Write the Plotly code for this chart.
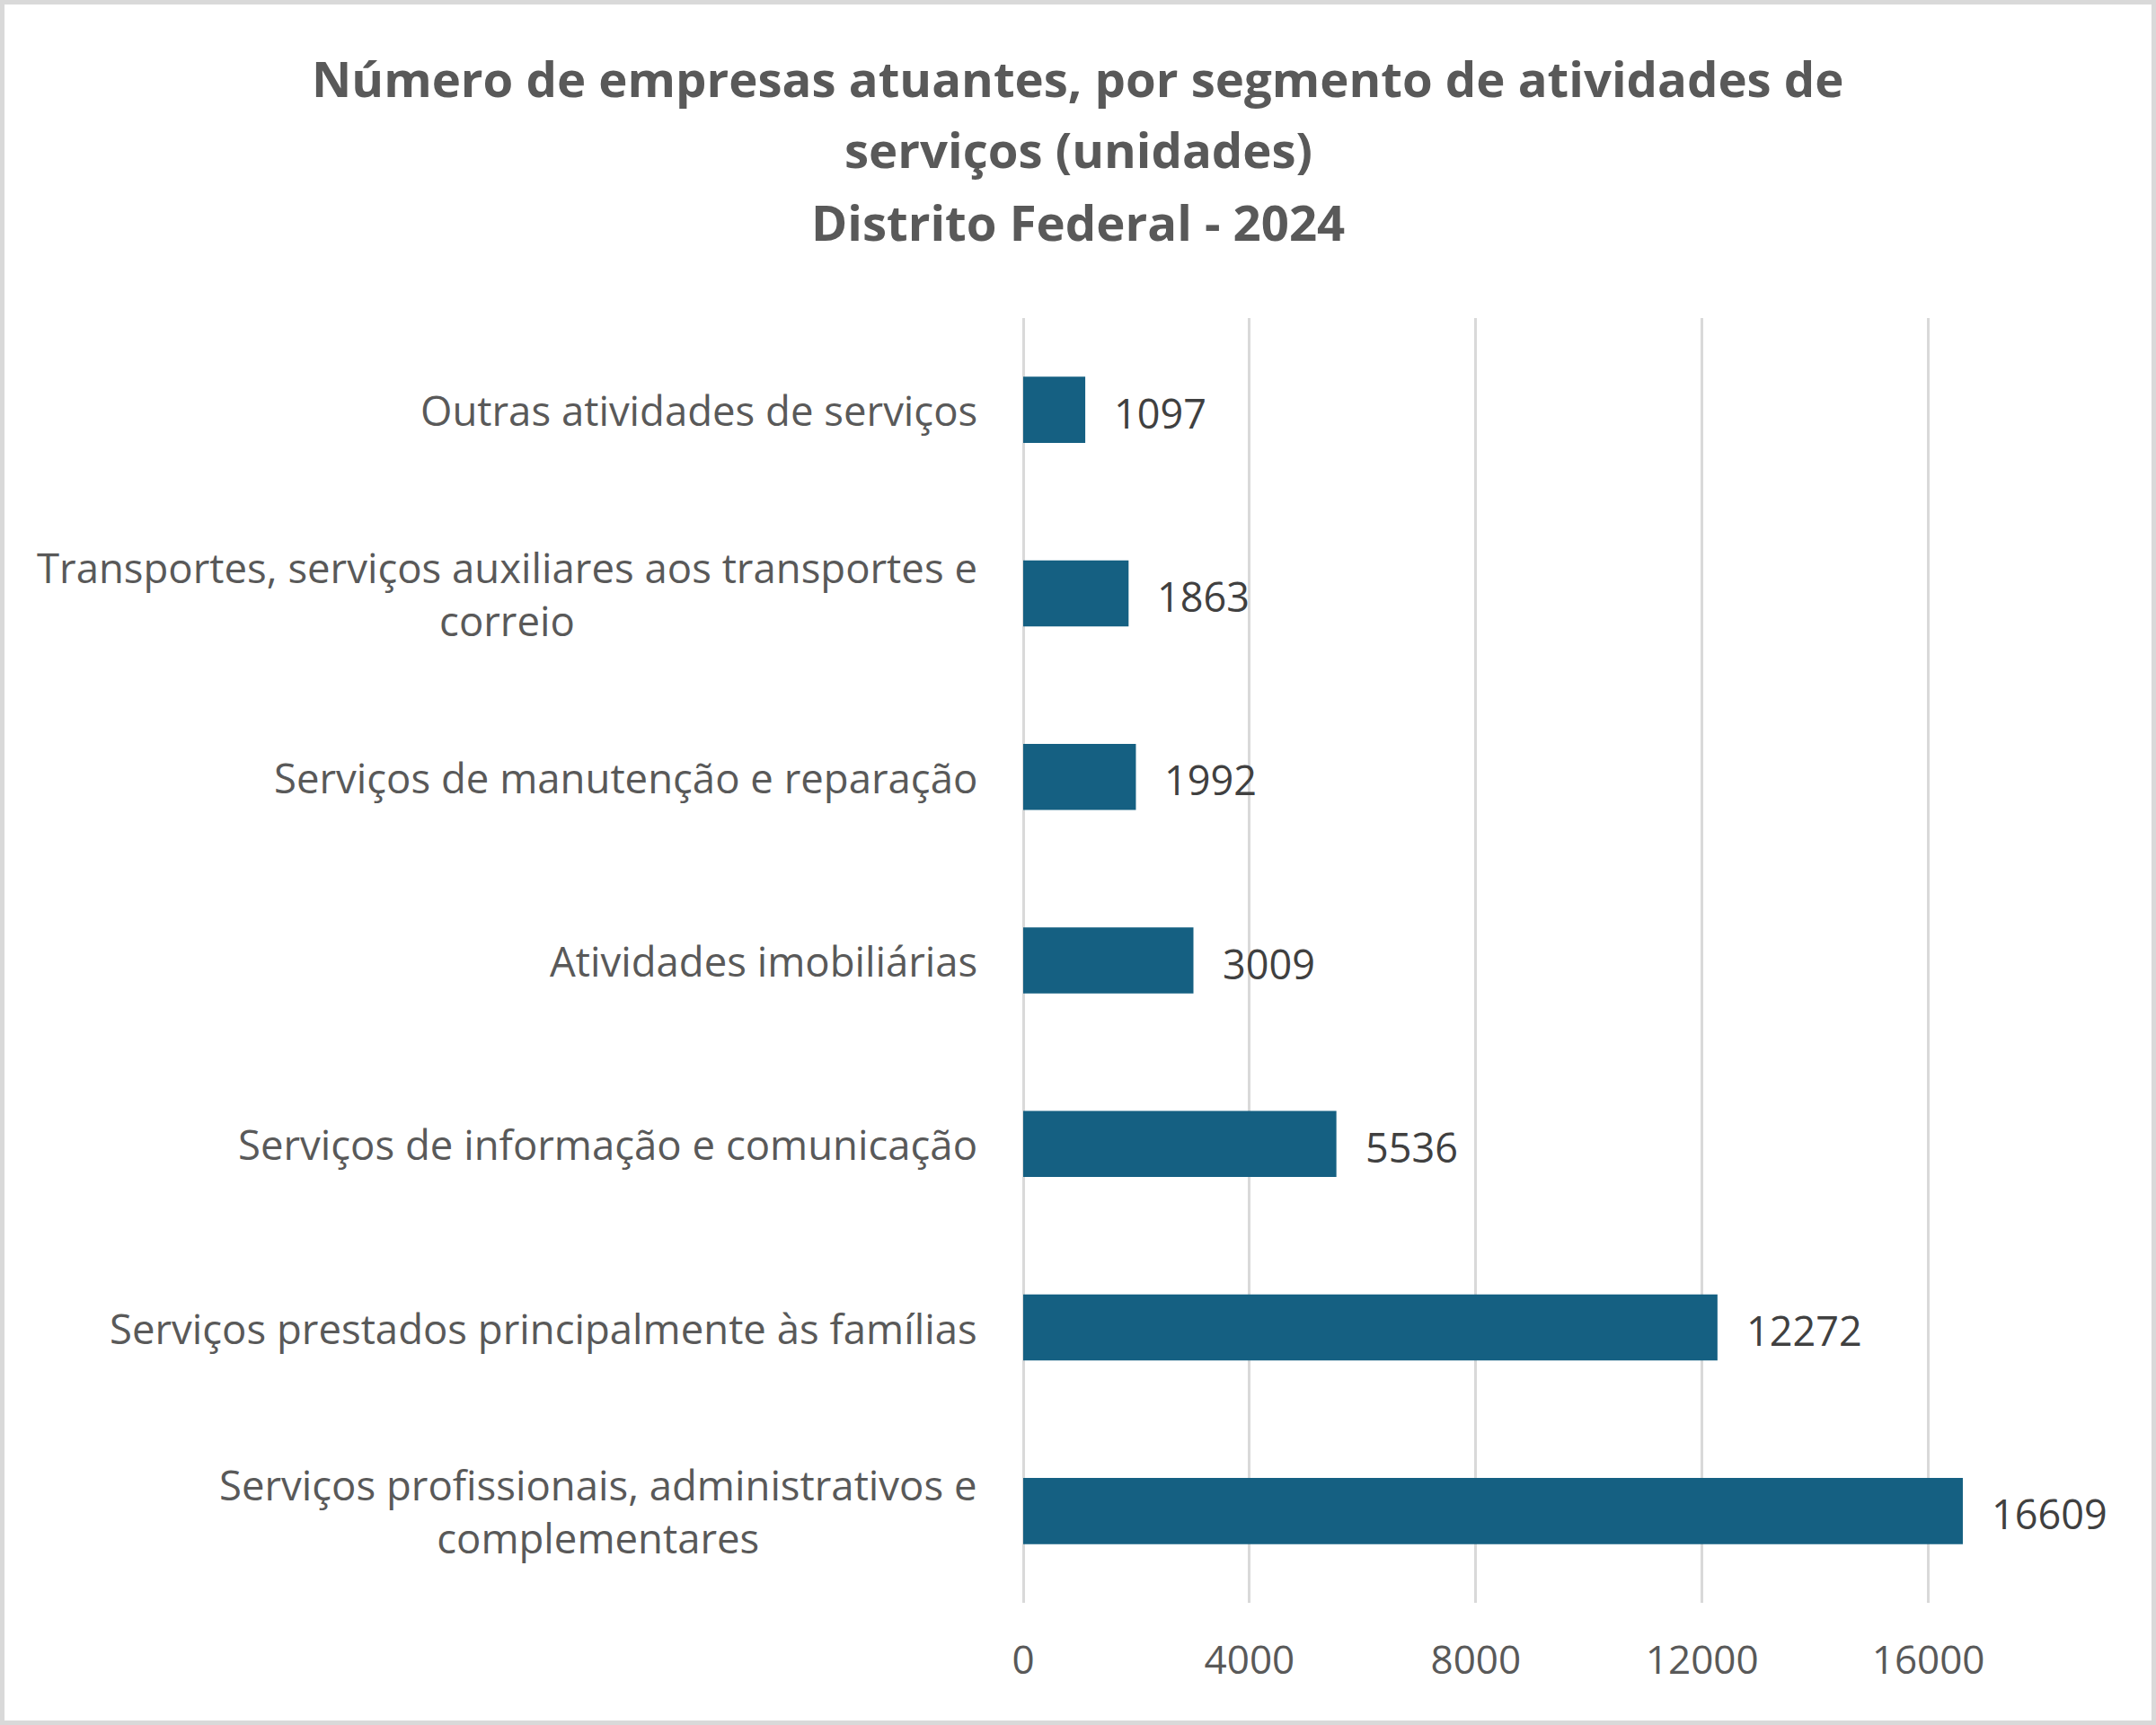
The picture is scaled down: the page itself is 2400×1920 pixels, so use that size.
import plotly.graph_objects as go

# Data (bottom to top, as drawn)
categories = [
    "Serviços profissionais, administrativos e<br>complementares",
    "Serviços prestados principalmente às famílias",
    "Serviços de informação e comunicação",
    "Atividades imobiliárias",
    "Serviços de manutenção e reparação",
    "Transportes, serviços auxiliares aos transportes e<br>correio",
    "Outras atividades de serviços",
]
empresas = [16609, 12272, 5536, 3009, 1992, 1863, 1097]
x_ticks = [0, 4000, 8000, 12000, 16000]
x_tick_labels = ["0", "4000", "8000", "12000", "16000"]

title_lines = [
    "Número de empresas atuantes, por segmento de atividades de",
    "serviços (unidades)",
    "Distrito Federal - 2024",
]

FONT = "Open Sans"
W, H = 2400, 1920
M_L, M_R, M_T, M_B = 1139, 203, 354, 136
pw = W - M_L - M_R
ph = H - M_T - M_B


def py_to_paper(py):
    # pixel from top of the figure -> paper y
    return (H - M_B - py) / ph


fig = go.Figure()
fig.add_trace(go.Bar(
    x=empresas,
    y=categories,
    orientation="h",
    marker=dict(color="#156082", line=dict(width=0)),
    hoverinfo="x+y",
))

# title, one line per annotation (Excel spacing is looser than plotly's)
title_x = (W / 2 - M_L) / pw
for line, py in zip(title_lines, [87, 166, 247]):
    fig.add_annotation(
        x=title_x, xref="paper", y=py_to_paper(py), yref="paper",
        text="<b>" + line + "</b>", showarrow=False,
        xanchor="center", yanchor="middle",
        font=dict(family=FONT, size=54.5, color="#595959"),
    )

# category labels (centered multi-line, right aligned block)
for cat in categories:
    fig.add_annotation(
        x=-49 / pw, xref="paper", y=cat, yref="y",
        text=cat, showarrow=False, xanchor="right", align="center",
        font=dict(family=FONT, size=45.5, color="#595959"),
    )

# data labels
for cat, val in zip(categories, empresas):
    fig.add_annotation(
        x=val, y=cat, text=str(val), showarrow=False,
        xanchor="left", xshift=30, yshift=-3,
        font=dict(family=FONT, size=45, color="#404040"),
    )

# outer frame
fig.add_shape(
    type="rect", xref="paper", yref="paper",
    x0=-M_L / pw, x1=(W - M_L) / pw,
    y0=-M_B / ph, y1=(H - M_B) / ph,
    line=dict(color="#d9d9d9", width=10), fillcolor="rgba(0,0,0,0)",
)

fig.update_layout(
    width=W, height=H,
    margin=dict(l=M_L, r=M_R, t=M_T, b=M_B),
    paper_bgcolor="white", plot_bgcolor="white",
    bargap=0.64,
    showlegend=False,
    xaxis=dict(
        range=[0, 16800], tickvals=x_ticks, ticktext=x_tick_labels,
        showgrid=True, gridcolor="#d9d9d9", gridwidth=3,
        zeroline=True, zerolinecolor="#d9d9d9", zerolinewidth=3,
        showline=False,
        tickfont=dict(family=FONT, size=44, color="#595959"),
        ticklabelstandoff=34,
    ),
    yaxis=dict(
        type="category", categoryorder="array", categoryarray=categories,
        range=[-0.5, 6.5], showticklabels=False, showgrid=False,
        zeroline=False, showline=False,
    ),
)

fig.write_html(
    "out.html",
    config={"displayModeBar": False},
    post_script="document.body.style.margin='0px';",
)
